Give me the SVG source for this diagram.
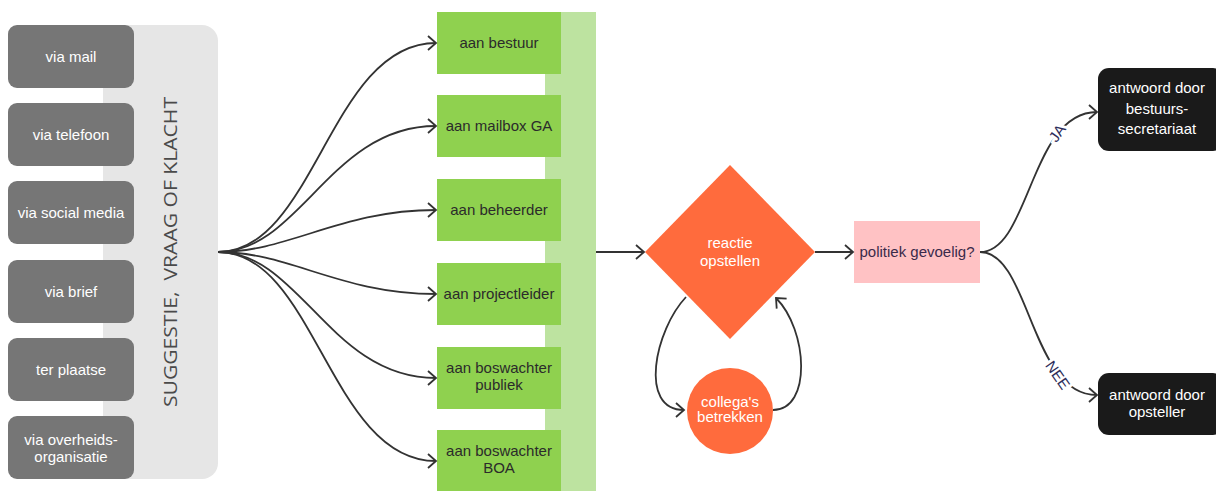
<svg xmlns="http://www.w3.org/2000/svg" width="1216" height="491" viewBox="0 0 1216 491">
<style>
.src{fill:#767676}
.st{fill:#fff;font-family:"Liberation Sans",Arial,sans-serif;font-size:15px;text-anchor:middle}
.gr{fill:#8fd14f}
.gt{fill:#2b2b2b;font-family:"Liberation Sans",Arial,sans-serif;font-size:15px;text-anchor:middle}
.bk{fill:#1a1a1a}
.con{fill:none;stroke:#333;stroke-width:1.8}
.lbl{fill:#2d2d5a;font-family:"Liberation Sans",Arial,sans-serif;font-size:15px;text-anchor:middle;dominant-baseline:central;stroke:#fff;stroke-width:6;paint-order:stroke}
</style>
<defs>
<marker id="ah" markerUnits="userSpaceOnUse" markerWidth="14" markerHeight="18" viewBox="0 0 14 18" refX="11" refY="9" orient="auto">
<path d="M3,2 L11,9 L3,16" fill="none" stroke="#333" stroke-width="1.8"/>
</marker>
</defs>
<rect width="1216" height="491" fill="#fff"/>

<g id="panel">
<rect x="103" y="25" width="115" height="454" rx="16" fill="#e6e6e6"/>
<text transform="translate(177,252) rotate(-90)" fill="#4a4a4a" font-family="'Open Sans',sans-serif" font-size="19" text-anchor="middle" textLength="310" lengthAdjust="spacingAndGlyphs" xml:space="preserve">SUGGESTIE,  VRAAG OF KLACHT</text>
</g>

<g id="src-mail"><rect class="src" x="8" y="25" width="126" height="63" rx="9"/><text class="st" x="71" y="62">via mail</text></g>
<g id="src-telefoon"><rect class="src" x="8" y="103" width="126" height="63" rx="9"/><text class="st" x="71" y="140">via telefoon</text></g>
<g id="src-social"><rect class="src" x="8" y="181" width="126" height="63" rx="9"/><text class="st" x="71" y="218">via social media</text></g>
<g id="src-brief"><rect class="src" x="8" y="260" width="126" height="63" rx="9"/><text class="st" x="71" y="297">via brief</text></g>
<g id="src-plaatse"><rect class="src" x="8" y="338" width="126" height="63" rx="9"/><text class="st" x="71" y="375">ter plaatse</text></g>
<g id="src-overheid"><rect class="src" x="8" y="416" width="126" height="63" rx="9"/><text class="st" x="71" y="445">via overheids-</text><text class="st" x="71" y="462">organisatie</text></g>

<g id="column"><rect x="545" y="12" width="51" height="479" fill="#bde3a0"/></g>

<g id="aan-bestuur"><rect class="gr" x="437" y="12" width="124" height="62"/><text class="gt" x="499" y="48">aan bestuur</text></g>
<g id="aan-mailbox"><rect class="gr" x="437" y="95" width="124" height="62"/><text class="gt" x="499" y="131">aan mailbox GA</text></g>
<g id="aan-beheerder"><rect class="gr" x="437" y="179" width="124" height="62"/><text class="gt" x="499" y="215">aan beheerder</text></g>
<g id="aan-projectleider"><rect class="gr" x="437" y="263" width="124" height="62"/><text class="gt" x="499" y="299">aan projectleider</text></g>
<g id="aan-boswachter-publiek"><rect class="gr" x="437" y="347" width="124" height="62"/><text class="gt" x="499" y="373">aan boswachter</text><text class="gt" x="499" y="390">publiek</text></g>
<g id="aan-boswachter-boa"><rect class="gr" x="437" y="430" width="124" height="61"/><text class="gt" x="499" y="456">aan boswachter</text><text class="gt" x="499" y="473">BOA</text></g>

<g id="reactie"><polygon points="730,165 815,252 730,339 645,252" fill="#ff6b3d"/><text class="st" x="730" y="248" font-size="14">reactie</text><text class="st" x="730" y="266" font-size="14">opstellen</text></g>
<g id="collegas"><circle cx="730" cy="411" r="43" fill="#ff6b3d"/><text class="st" x="730" y="407" font-size="12.5">collega's</text><text class="st" x="730" y="422" font-size="12.5">betrekken</text></g>
<g id="politiek"><rect x="854" y="221" width="126" height="62" fill="#ffc2c4"/><text class="gt" x="917" y="257" style="fill:#3a2a4a">politiek gevoelig?</text></g>
<g id="antwoord-bestuur"><rect class="bk" x="1098" y="68" width="126" height="83" rx="11"/><text class="st" x="1157" y="93">antwoord door</text><text class="st" x="1157" y="114">bestuurs-</text><text class="st" x="1157" y="134">secretariaat</text></g>
<g id="antwoord-opsteller"><rect class="bk" x="1098" y="373" width="126" height="62" rx="11"/><text class="st" x="1157" y="400">antwoord door</text><text class="st" x="1157" y="417">opsteller</text></g>

<g id="connectors">
<path class="con" marker-end="url(#ah)" d="M218,252 C315,252 330,43 436,43"/>
<path class="con" marker-end="url(#ah)" d="M218,252 C300,252 330,126 436,126"/>
<path class="con" marker-end="url(#ah)" d="M218,252 C290,252 340,210 436,210"/>
<path class="con" marker-end="url(#ah)" d="M218,252 C290,252 340,294 436,294"/>
<path class="con" marker-end="url(#ah)" d="M218,252 C300,252 330,378 436,378"/>
<path class="con" marker-end="url(#ah)" d="M218,252 C315,252 330,461 436,461"/>
<path class="con" marker-end="url(#ah)" d="M596,252 L644,252"/>
<path class="con" marker-end="url(#ah)" d="M815,252 L853,252"/>
<path class="con" marker-end="url(#ah)" d="M686,297 C655,330 638,410 684,410"/>
<path class="con" marker-end="url(#ah)" d="M773,410 C812,410 808,330 776,298"/>
<path class="con" marker-end="url(#ah)" d="M980,252 C1030,252 1030,112 1097,112"/>
<path class="con" marker-end="url(#ah)" d="M980,252 C1030,252 1030,395 1097,395"/>
<text class="lbl" transform="translate(1057,133) rotate(-55)">JA</text>
<text class="lbl" transform="translate(1058,375) rotate(55)">NEE</text>
</g>
</svg>
